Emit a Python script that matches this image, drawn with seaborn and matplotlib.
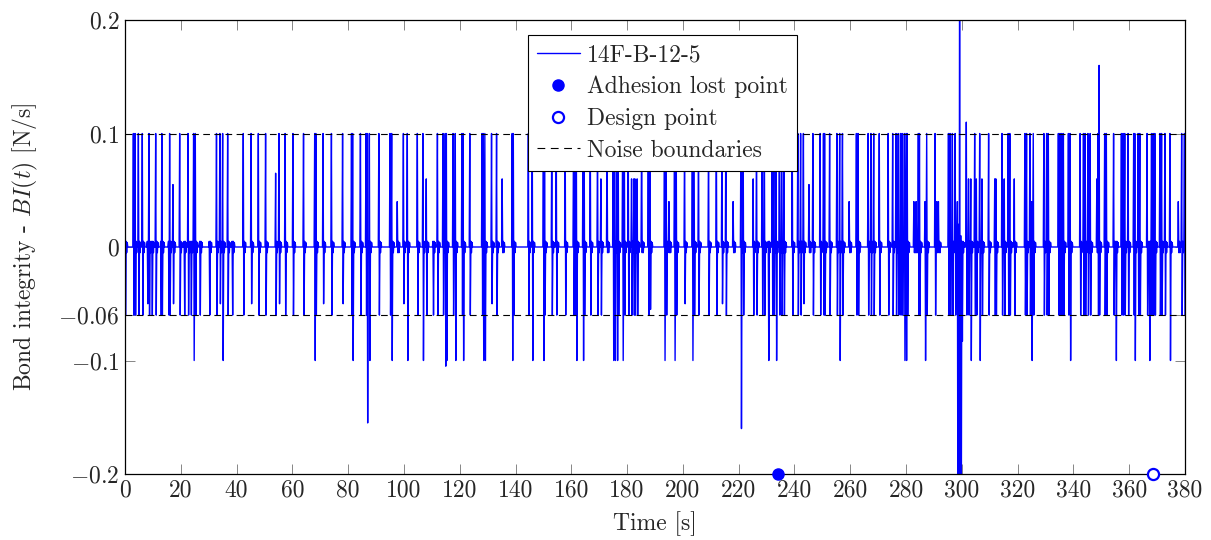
import numpy as np
import pandas as pd
import matplotlib
matplotlib.use("Agg")
import matplotlib.pyplot as plt
from matplotlib.lines import Line2D
import seaborn as sns

# Detected events in the bond-integrity signal: time [s], peak value, trough value
event_t = [
    0.0, 3.0, 3.6, 4.8, 6.3, 8.0, 8.7, 9.6, 11.1, 12.8, 13.2, 15.5, 16.1, 17.3,
    19.5, 21.2, 22.6, 23.6, 24.7, 25.1, 26.9, 30.2, 32.9, 34.1, 35.0, 36.7,
    38.5, 42.4, 45.2, 47.8, 50.4, 54.0, 55.2, 57.4, 60.3, 63.9, 67.9, 68.4,
    71.1, 73.9,
    78.0, 81.3, 81.6, 84.5, 86.4, 86.9, 87.6, 91.1, 95.0, 95.6, 97.6, 99.8,
    101.2, 104.8, 106.9, 107.9, 110.5, 112.0,
    114.1, 114.7, 115.3, 117.7, 118.3, 120.7, 121.3, 123.7, 127.9, 128.4,
    129.0, 131.4, 133.2, 135.3, 138.9, 139.3, 144.6, 146.0, 150.0,
    150.4, 153.1, 154.6, 157.8, 160.8, 161.4, 161.8, 164.2, 164.7, 166.8,
    169.4, 170.7, 172.8, 175.1, 175.7, 176.4, 176.9, 178.5, 179.0, 180.5,
    181.7, 182.3, 182.9, 183.5, 185.3, 187.6,
    188.2, 193.4, 193.9, 195.1, 197.0, 197.5, 200.6, 203.4, 204.1, 205.6,
    209.2, 211.9, 213.9, 215.4, 218.1, 220.9, 221.7, 225.3,
    226.5, 228.3, 229.1, 230.7, 231.9, 232.7, 233.4, 234.6, 235.4, 236.2,
    239.3, 241.3, 242.2, 243.1, 245.3, 246.7, 249.1, 250.3, 250.9, 252.7,
    255.3, 256.2, 257.2, 259.5, 262.2, 262.8,
    266.5, 267.4, 268.3, 270.3, 273.5, 275.3, 276.3, 277.1, 278.0, 278.6,
    279.4, 280.0, 280.3, 282.8, 283.6, 284.3, 284.9, 286.8, 287.4, 290.4,
    291.0, 291.6, 295.1, 295.8, 296.6, 297.5,
    298.4, 298.8, 299.2, 299.6, 300.1,
    301.5, 302.3, 303.2, 304.7, 305.3, 306.3, 307.3, 309.5, 311.9, 312.2,
    314.3, 315.1, 316.6, 317.3, 318.8, 322.6, 323.2, 324.4, 325.0, 325.6,
    329.4, 330.4, 331.0, 334.6, 335.2, 335.8, 336.4, 338.2, 338.8, 342.4,
    343.5, 344.2, 345.3, 346.0, 348.3, 348.9, 349.3, 351.3, 351.9, 354.3,
    355.3, 357.3, 357.9, 358.5, 359.7, 361.5, 362.1, 363.3, 363.9, 366.3,
    367.2, 368.1, 368.7, 369.2, 371.0, 371.6, 372.8, 374.6, 377.6, 378.8,
    379.8,
]
event_hi = [
    0.1, 0.1, 0.1, 0.1, 0.1, 0.005, 0.1, 0.005, 0.1, 0.005, 0.1, 0.005, 0.1, 0.055,
    0.1, 0.005, 0.1, 0.005, 0.1, 0.1, 0.005, 0.005, 0.1, 0.1, 0.1, 0.1,
    0.005, 0.1, 0.1, 0.1, 0.1, 0.065, 0.1, 0.1, 0.1, 0.1, 0.1, 0.1,
    0.1, 0.1,
    0.1, 0.1, 0.1, 0.1, 0.1, 0.1, 0.1, 0.1, 0.1, 0.1, 0.04, 0.1,
    0.1, 0.1, 0.1, 0.06, 0.005, 0.1,
    0.1, 0.1, 0.1, 0.1, 0.1, 0.1, 0.1, 0.1, 0.1, 0.1,
    0.1, 0.1, 0.1, 0.06, 0.1, 0.1, 0.1, 0.1, 0.1,
    0.1, 0.1, 0.1, 0.1, 0.1, 0.1, 0.1, 0.1, 0.1, 0.1,
    0.1, 0.06, 0.1, 0.1, 0.1, 0.1, 0.1, 0.1, 0.1, 0.1,
    0.06, 0.06, 0.06, 0.06, 0.1, 0.1,
    0.1, 0.1, 0.1, 0.04, 0.1, 0.1, 0.1, 0.1, 0.1, 0.1,
    0.1, 0.1, 0.1, 0.1, 0.04, 0.1, 0.1, 0.06,
    0.1, 0.1, 0.1, 0.005, 0.1, 0.1, 0.1, 0.1, 0.1, 0.1,
    0.1, 0.1, 0.1, 0.1, 0.055, 0.1, 0.1, 0.1, 0.1, 0.1,
    0.1, 0.1, 0.1, 0.04, 0.1, 0.1,
    0.1, 0.1, 0.1, 0.1, 0.1, 0.1, 0.1, 0.1, 0.1, 0.1,
    0.1, 0.1, 0.1, 0.04, 0.04, 0.1, 0.1, 0.04, 0.1, 0.1,
    0.04, 0.04, 0.1, 0.1, 0.1, 0.1,
    0.04, 0.02, 0.3, 0.01, 0.005,
    0.11, 0.06, 0.06, 0.1, 0.06, 0.1, 0.06, 0.1, 0.06, 0.06,
    0.1, 0.06, 0.1, 0.1, 0.06, 0.1, 0.1, 0.1, 0.04, 0.1,
    0.1, 0.1, 0.1, 0.1, 0.1, 0.1, 0.1, 0.1, 0.1, 0.1,
    0.1, 0.1, 0.1, 0.1, 0.06, 0.1, 0.16, 0.1, 0.1, 0.1,
    0.005, 0.1, 0.1, 0.1, 0.1, 0.1, 0.1, 0.1, 0.1, 0.1,
    0.005, 0.1, 0.1, 0.1, 0.1, 0.1, 0.1, 0.1, 0.04, 0.1,
    0.1,
]
event_lo = [
    -0.06, -0.06, -0.06, -0.06, -0.06, -0.05, -0.06, -0.06, -0.06, -0.06, -0.06, -0.06, -0.06, -0.05,
    -0.06, -0.06, -0.06, -0.06, -0.1, -0.06, -0.06, -0.06, -0.06, -0.05, -0.1, -0.06,
    -0.06, -0.06, -0.05, -0.06, -0.06, -0.06, -0.05, -0.06, -0.06, -0.06, -0.1, -0.06,
    -0.05, -0.06,
    -0.05, -0.06, -0.1, -0.06, -0.06, -0.155, -0.1, -0.06, -0.06, -0.1, -0.005, -0.05,
    -0.1, -0.06, -0.1, -0.06, -0.06, -0.06,
    -0.06, -0.105, -0.1, -0.06, -0.1, -0.06, -0.1, -0.06, -0.06, -0.1,
    -0.1, -0.05, -0.06, -0.005, -0.1, -0.06, -0.06, -0.1, -0.1,
    -0.06, -0.06, -0.06, -0.06, -0.06, -0.06, -0.1, -0.1, -0.06, -0.06,
    -0.06, -0.06, -0.005, -0.1, -0.1, -0.1, -0.06, -0.1, -0.06, -0.06,
    -0.06, -0.06, -0.06, -0.06, -0.005, -0.06,
    -0.055, -0.1, -0.06, -0.005, -0.1, -0.06, -0.05, -0.1, -0.06, -0.06,
    -0.06, -0.06, -0.05, -0.06, -0.005, -0.16, -0.06, -0.06,
    -0.06, -0.06, -0.06, -0.1, -0.06, -0.06, -0.1, -0.06, -0.06, -0.06,
    -0.06, -0.06, -0.06, -0.05, -0.005, -0.06, -0.06, -0.06, -0.06, -0.06,
    -0.06, -0.1, -0.06, -0.005, -0.06, -0.06,
    -0.06, -0.06, -0.06, -0.06, -0.06, -0.06, -0.06, -0.06, -0.06, -0.06,
    -0.1, -0.1, -0.06, -0.005, -0.005, -0.06, -0.06, -0.1, -0.06, -0.06,
    -0.005, -0.005, -0.06, -0.06, -0.06, -0.06,
    -0.3, -0.3, -0.3, -0.25, -0.083,
    -0.06, -0.06, -0.1, -0.06, -0.06, -0.1, -0.06, -0.06, -0.06, -0.06,
    -0.06, -0.06, -0.06, -0.06, -0.06, -0.06, -0.06, -0.06, -0.1, -0.06,
    -0.06, -0.06, -0.06, -0.06, -0.06, -0.06, -0.06, -0.06, -0.1, -0.06,
    -0.06, -0.06, -0.06, -0.06, -0.005, -0.06, -0.06, -0.06, -0.06, -0.06,
    -0.1, -0.06, -0.06, -0.06, -0.06, -0.06, -0.1, -0.06, -0.06, -0.06,
    -0.1, -0.06, -0.06, -0.06, -0.06, -0.06, -0.06, -0.1, -0.005, -0.06,
    -0.06,
]

noise_upper = 0.1
noise_lower = -0.06
adhesion_lost = (234.1, -0.2)
design_point = (368.5, -0.2)

x_ticks = list(range(0, 381, 20))
y_ticks = [-0.2, -0.1, -0.06, 0.0, 0.1, 0.2]
y_tick_labels = [r"$-0.2$", r"$-0.1$", r"$-0.06$", r"$0$", r"$0.1$", r"$0.2$"]

# Rebuild the sampled signal (0.2 s sampling) from the event table
dt = 0.2
time = np.round(np.arange(0.0, 380.0 + dt / 2, dt), 1)
signal = np.zeros_like(time)
settle = [0.005, -0.005, 0.004]
for te, hi, lo in zip(event_t, event_hi, event_lo):
    i = int(round(te / dt))
    for k, v in enumerate([hi, lo] + settle):
        if i + k < len(signal):
            signal[i + k] = v

df = pd.DataFrame({"Time": time, "BI": signal})

sns.set_style("ticks")
plt.rcParams["font.family"] = ["cmr10"]
plt.rcParams["mathtext.fontset"] = "cm"
plt.rcParams["axes.formatter.use_mathtext"] = True

fig = plt.figure(figsize=(12.11, 5.40), dpi=100)
ax = fig.add_axes([125 / 1211, 1 - 474 / 540, 1060 / 1211, 454 / 540])

sns.lineplot(data=df, x="Time", y="BI", ax=ax, color="#0000ff", lw=1.0,
             estimator=None, sort=False, zorder=2)
dash = (0, (6, 4))
ax.axhline(noise_upper, color="black", lw=0.8, ls=dash, zorder=3)
ax.axhline(noise_lower, color="black", lw=0.8, ls=dash, zorder=3)
ax.plot([adhesion_lost[0]], [adhesion_lost[1]], "o", color="#0000ff", ms=8,
        clip_on=False, zorder=5)
ax.plot([design_point[0]], [design_point[1]], "o", mfc="white", mec="#0000ff",
        mew=1.6, ms=8, clip_on=False, zorder=5)

ax.set_xlim(0, 380)
ax.set_ylim(-0.2, 0.2)
ax.set_xticks(x_ticks)
ax.set_xticklabels([str(v) for v in x_ticks])
ax.set_yticks(y_ticks)
ax.set_yticklabels(y_tick_labels)
ax.tick_params(direction="in", length=7, width=0.6, color="0.45",
               top=True, right=True, labelsize=17, pad=4)
for s in ax.spines.values():
    s.set_color("black")
    s.set_linewidth(0.9)

ax.set_xlabel("Time [s]", fontsize=17, labelpad=7)
ax.set_ylabel(r"Bond integrity - $BI(t)$ [N/s]", fontsize=17, labelpad=13)

handles = [
    Line2D([], [], color="#0000ff", lw=1.0),
    Line2D([], [], ls="none", marker="o", color="#0000ff", ms=8),
    Line2D([], [], ls="none", marker="o", mfc="white", mec="#0000ff", mew=1.6, ms=8),
    Line2D([], [], color="black", lw=0.8, ls=(0, (7, 5))),
]
labels = ["14F-B-12-5", "Adhesion lost point", "Design point", "Noise boundaries"]
leg = ax.legend(handles, labels, loc="upper left", bbox_to_anchor=(0.380, 0.967),
                fontsize=17, frameon=True, fancybox=False, framealpha=1,
                edgecolor="black", borderpad=0.4, labelspacing=0.4,
                handlelength=1.8, handletextpad=0.3, borderaxespad=0)
leg.get_frame().set_linewidth(0.8)
leg.set_zorder(10)

fig.savefig("out.png", dpi=100)
